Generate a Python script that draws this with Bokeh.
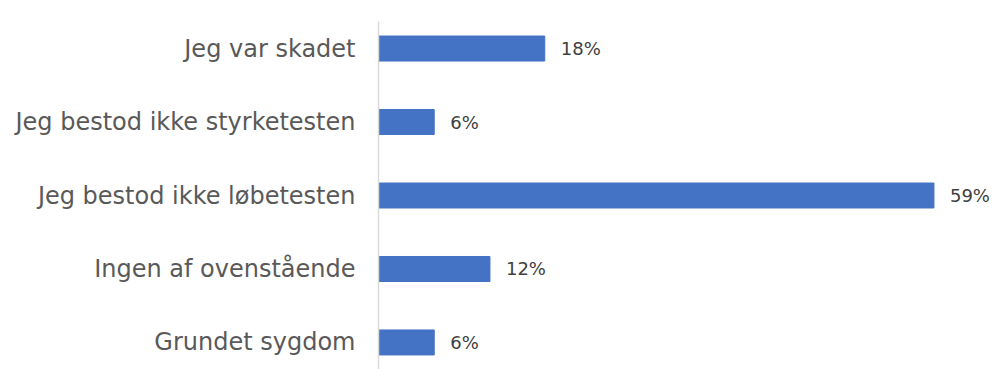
from bokeh.plotting import figure
from bokeh.models import FactorRange, Range1d, ColumnDataSource
from bokeh.core.properties import value
from bokeh.embed import file_html
from bokeh.resources import INLINE

categories = ["Jeg var skadet", "Jeg bestod ikke styrketesten",
              "Jeg bestod ikke løbetesten", "Ingen af ovenstående", "Grundet sygdom"]
percent = [17.6, 5.9, 58.8, 11.8, 5.9]
labels = [f"{v:.0f}%" for v in percent]

src = ColumnDataSource(dict(cat=categories, val=percent, label=labels))

p = figure(width=992, height=369,
           y_range=FactorRange(factors=categories[::-1], range_padding=-0.132,
                               range_padding_units="absolute"),
           x_range=Range1d(0, 65.0),
           x_axis_location=None, toolbar_location=None, output_backend="svg",
           title=None, min_border_left=378, min_border_right=0,
           min_border_top=21, min_border_bottom=0)

p.hbar(y="cat", left=0, right="val", height=0.34, fill_color="#4472C4",
       line_color="#4472C4", source=src)
p.text(x="val", y="cat", text="label", x_offset=16, text_align="left",
       text_baseline="middle", text_font=value("DejaVu Sans"),
       text_font_size="18px", text_color="#404040", source=src)

p.xgrid.visible = False
p.ygrid.visible = False
p.outline_line_color = None
p.background_fill_color = "white"
p.border_fill_color = "white"

ax = p.yaxis[0]
ax.axis_line_color = "#D9D9D9"
ax.axis_line_width = 1.5
ax.major_tick_line_color = None
ax.minor_tick_line_color = None
ax.major_tick_out = 0
ax.major_tick_in = 0
ax.major_label_standoff = 23
ax.major_label_text_font = "DejaVu Sans"
ax.major_label_text_font_size = "24px"
ax.major_label_text_color = "#595959"

open("out.html", "w").write(file_html(p, INLINE))
